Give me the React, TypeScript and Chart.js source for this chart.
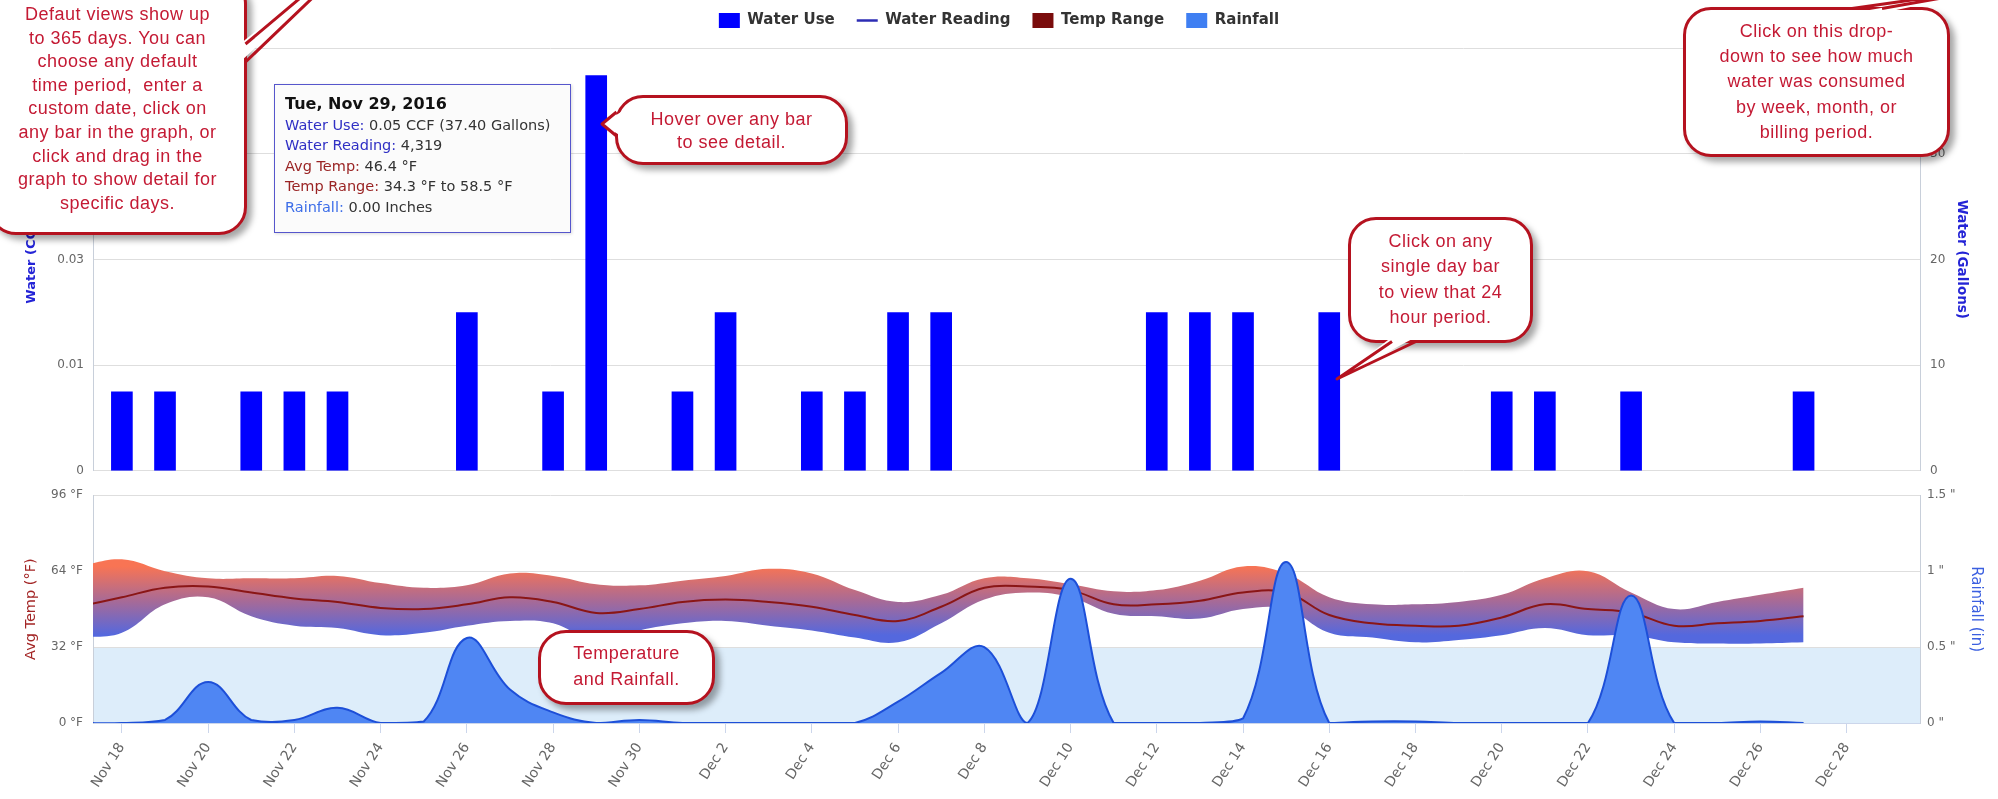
import React, { useEffect, useRef } from 'react';
import { Chart, registerables } from 'chart.js';

Chart.register(...registerables);

// ---------------- data ----------------
const days = [
  'Nov 17', 'Nov 18', 'Nov 19', 'Nov 20', 'Nov 21', 'Nov 22', 'Nov 23', 'Nov 24', 'Nov 25', 'Nov 26',
  'Nov 27', 'Nov 28', 'Nov 29', 'Nov 30', 'Dec 1', 'Dec 2', 'Dec 3', 'Dec 4', 'Dec 5', 'Dec 6',
  'Dec 7', 'Dec 8', 'Dec 9', 'Dec 10', 'Dec 11', 'Dec 12', 'Dec 13', 'Dec 14', 'Dec 15', 'Dec 16',
  'Dec 17', 'Dec 18', 'Dec 19', 'Dec 20', 'Dec 21', 'Dec 22', 'Dec 23', 'Dec 24', 'Dec 25', 'Dec 26',
  'Dec 27', 'Dec 28',
];

const tickDays = [
  'Nov 18', 'Nov 20', 'Nov 22', 'Nov 24', 'Nov 26', 'Nov 28', 'Nov 30', 'Dec 2', 'Dec 4', 'Dec 6',
  'Dec 8', 'Dec 10', 'Dec 12', 'Dec 14', 'Dec 16', 'Dec 18', 'Dec 20', 'Dec 22', 'Dec 24', 'Dec 26', 'Dec 28',
];

// Water use per day, gallons (0.01 CCF = 7.48 gal)
const waterUseGallons: (number | null)[] = [
  null, 7.48, 7.48, null, 7.48, 7.48, 7.48, null, null, 14.96,
  null, 7.48, 37.4, null, 7.48, 14.96, null, 7.48, 7.48, 14.96,
  14.96, null, null, null, null, 14.96, 14.96, 14.96, null, 14.96,
  null, null, null, 7.48, 7.48, null, 7.48, null, null, null,
  7.48, null,
];

const avgTemp: (number | null)[] = [
  49, 53, 57, 57.5, 55, 52.5, 51, 48.5, 48, 50,
  53, 51, 46.4, 48, 51, 52, 51, 49, 45.5, 43,
  49, 57, 57.5, 56, 50, 50, 51.5, 55, 55, 45.5,
  42, 41, 41, 44.5, 50, 48, 46.5, 41, 42, 43,
  45, null,
];

const highTemp: (number | null)[] = [
  66, 69, 64, 61, 61, 61, 62, 59, 57, 58,
  63, 62, 58.5, 58, 60, 62, 65, 63, 56, 51,
  54, 61, 61, 58.5, 55.5, 56, 60, 66, 63, 53,
  50, 50, 51, 54, 61, 64, 55, 48, 51, 54,
  57, null,
];

const lowTemp: (number | null)[] = [
  36, 38, 50, 53, 45, 41, 40, 37, 38, 41,
  43, 42, 34.3, 39, 42, 43, 41, 39, 36, 34,
  42, 52, 55, 53, 46, 45, 44, 48, 48, 38,
  36, 34, 35, 37, 40, 37, 37, 34, 33.5, 33.5,
  34, null,
];

const rainfall: (number | null)[] = [
  0, 0, 0.02, 0.27, 0.02, 0.02, 0.1, 0, 0.01, 0.56,
  0.22, 0.07, 0, 0.02, 0, 0, 0, 0, 0, 0.14,
  0.33, 0.5, 0, 0.95, 0, 0, 0, 0.03, 1.06, 0,
  0.01, 0.01, 0, 0, 0, 0, 0.84, 0, 0, 0.01,
  0, null,
];

const gallonTicks = [0, 10, 20, 30, 40];
const ccfTickLabels = ['0', '0.01', '0.03', '0.04', '0.05'];
const gallonTickLabels = ['0', '10', '20', '30', '40'];
const tempTicks = [0, 32, 64, 96];
const tempTickLabels = ['0 °F', '32 °F', '64 °F', '96 °F'];
const rainTicks = [0, 0.5, 1, 1.5];
const rainTickLabels = ['0 "', '0.5 "', '1 "', '1.5 "'];
const freezeRange = [0, 32];

const legendLabels = ['Water Use', 'Water Reading', 'Temp Range', 'Rainfall'];

const tooltipDay = 'Nov 29';
const tooltipDate = 'Tue, Nov 29, 2016';
const waterReading = '4,319';

// ---------------- view settings ----------------
const X_MIN = 0.33;
const X_MAX = 42.7;
const LEFT_AXIS_W = 93;
const RIGHT_AXIS_W = 78;
const LEGEND_DY = 10;

const legendStyles = [
  { color: '#0000ff', style: 'rect', lw: 0 },
  { color: '#2c2cb4', style: 'line', lw: 2.5 },
  { color: '#7a0c0c', style: 'rect', lw: 0 },
  { color: '#3f7ff2', style: 'rect', lw: 0 },
];

const toPoints = (arr: (number | null)[]) => arr.map((v, i) => ({ x: i, y: v }));

const xTicksFromDays = (scale: any) => {
  scale.ticks = tickDays.map((d) => ({ value: days.indexOf(d) }));
};

Chart.defaults.font.family = '"DejaVu Sans", sans-serif';
Chart.defaults.color = '#666';

const legendShift = {
  id: 'legendShift',
  afterLayout(chart: any) {
    const l = chart.legend;
    if (l) {
      l.top -= LEGEND_DY;
      l.bottom -= LEGEND_DY;
    }
  },
};

const freezeBand = {
  id: 'freezeBand',
  beforeDraw(chart: any) {
    const { ctx, chartArea } = chart;
    const ys = chart.scales.yTemp;
    if (!chartArea || !ys) return;
    const yTop = ys.getPixelForValue(freezeRange[1]);
    const yBot = ys.getPixelForValue(freezeRange[0]);
    ctx.save();
    ctx.fillStyle = '#ddedfa';
    ctx.fillRect(chartArea.left, yTop, chartArea.right - chartArea.left, yBot - yTop);
    ctx.restore();
  },
};

const tempRangeFill = (c: any) => {
  const chart = c.chart;
  const ys = chart.scales && chart.scales.yTemp;
  if (!chart.chartArea || !ys) return 'rgba(170,110,150,1)';
  const g = chart.ctx.createLinearGradient(0, ys.getPixelForValue(66), 0, ys.getPixelForValue(37));
  g.addColorStop(0, 'rgb(248,116,84)');
  g.addColorStop(0.5, 'rgb(168,106,150)');
  g.addColorStop(1, 'rgb(84,104,222)');
  return g;
};

// ---------------- overlays ----------------
type CalloutProps = {
  left: number; top: number; width: number; height: number;
  lines: string[]; lineHeight: number; padTop: number;
};

function Callout({ left, top, width, height, lines, lineHeight, padTop }: CalloutProps) {
  return (
    <div
      style={{
        position: 'absolute', left, top, width, height, boxSizing: 'border-box',
        border: '3px solid #b5121f', borderRadius: 28, background: '#fff',
        boxShadow: '5px 5px 6px rgba(0,0,0,0.35)',
        paddingTop: padTop, textAlign: 'center',
        fontFamily: '"Liberation Sans", Arial, sans-serif', fontSize: 18, letterSpacing: 0.5,
        color: '#c41a34', lineHeight: `${lineHeight}px`, whiteSpace: 'pre',
      }}
    >
      {lines.map((l, i) => (
        <div key={i}>{l}</div>
      ))}
    </div>
  );
}

type Tail = { fill: number[][]; stroke: number[][] };
const tails: Tail[] = [
  { fill: [[240, 44], [399, -85], [240, 62]], stroke: [[245.5, 44], [399, -85], [245.5, 62]] },
  { fill: [[621, 112], [602, 124], [621, 136]], stroke: [[616.5, 112], [602, 124], [616.5, 136]] },
  { fill: [[1852, 13], [2010, -14], [1882, 13]], stroke: [[1852, 8.5], [2010, -14], [1882, 8.5]] },
  { fill: [[1392, 337], [1337, 379], [1416, 337]], stroke: [[1392, 341.5], [1337, 379], [1416, 341.5]] },
];

const pts = (p: number[][]) => p.map((q) => q.join(',')).join(' ');

export default function App() {
  const topRef = useRef<HTMLCanvasElement>(null);
  const botRef = useRef<HTMLCanvasElement>(null);

  useEffect(() => {
    document.body.style.margin = '0';
    const gridColor = '#dedede';
    const axisColor = '#c8cfda';

    const top = new Chart(topRef.current as HTMLCanvasElement, {
      type: 'bar',
      data: {
        datasets: [
          {
            type: 'bar',
            label: 'Water Use',
            data: toPoints(waterUseGallons) as any,
            backgroundColor: '#0000ff',
            borderWidth: 0,
            barThickness: 21,
            yAxisID: 'yGal',
          },
          {
            type: 'line',
            label: 'Water Reading',
            data: [],
            borderColor: '#2c2cb4',
            yAxisID: 'yGal',
          } as any,
        ],
      },
      options: {
        responsive: false,
        animation: false,
        devicePixelRatio: 1,
        layout: { padding: { top: 1, bottom: 0, left: 0, right: 0 } },
        plugins: {
          tooltip: { enabled: false },
          legend: {
            display: true,
            position: 'top',
            labels: {
              usePointStyle: true,
              pointStyleWidth: 21,
              boxHeight: 15,
              padding: 22,
              color: '#333',
              font: { size: 15, weight: 'bold' },
              generateLabels: () =>
                legendLabels.map((text, i) => ({
                  text,
                  fillStyle: legendStyles[i].color,
                  strokeStyle: legendStyles[i].color,
                  lineWidth: legendStyles[i].lw,
                  pointStyle: legendStyles[i].style as any,
                  hidden: false,
                  datasetIndex: i,
                  fontColor: '#333',
                })),
            },
          },
        },
        scales: {
          x: { type: 'linear', min: X_MIN, max: X_MAX, offset: false, display: false },
          yCcf: {
            type: 'linear',
            position: 'left',
            min: 0,
            max: 40,
            afterBuildTicks: (s: any) => { s.ticks = gallonTicks.map((v) => ({ value: v })); },
            afterFit: (s: any) => { s.width = LEFT_AXIS_W; },
            ticks: { callback: (_v: any, i: number) => ccfTickLabels[i], padding: 9, font: { size: 12 }, color: '#666' },
            grid: { color: gridColor, drawTicks: false },
            border: { display: true, color: axisColor },
            title: { display: true, text: 'Water (CCF)', color: '#2424d6', font: { size: 13, weight: 'bold' }, padding: { top: 24, bottom: 0 } },
          },
          yGal: {
            type: 'linear',
            position: 'right',
            min: 0,
            max: 40,
            afterBuildTicks: (s: any) => { s.ticks = gallonTicks.map((v) => ({ value: v })); },
            afterFit: (s: any) => { s.width = RIGHT_AXIS_W; },
            ticks: { callback: (_v: any, i: number) => gallonTickLabels[i], padding: 10, font: { size: 12 }, color: '#666' },
            grid: { drawOnChartArea: false, drawTicks: false },
            border: { display: true, color: axisColor },
            title: { display: true, text: 'Water (Gallons)', color: '#2424d6', font: { size: 13.5, weight: 'bold' }, padding: { top: 28, bottom: 0 } },
          },
        },
      } as any,
      plugins: [legendShift],
    });

    const bottom = new Chart(botRef.current as HTMLCanvasElement, {
      type: 'line',
      data: {
        datasets: [
          {
            label: 'Rainfall',
            data: toPoints(rainfall) as any,
            yAxisID: 'yRain',
            borderColor: '#1d4fd8',
            borderWidth: 2,
            backgroundColor: '#4f86f3',
            fill: 'origin',
            tension: 0.4,
            pointRadius: 0,
          },
          {
            label: 'Avg Temp',
            data: toPoints(avgTemp) as any,
            yAxisID: 'yTemp',
            borderColor: '#8a1616',
            borderWidth: 2,
            fill: false,
            tension: 0.4,
            pointRadius: 0,
          },
          {
            label: 'Temp High',
            data: toPoints(highTemp) as any,
            yAxisID: 'yTemp',
            borderWidth: 0,
            borderColor: 'rgba(0,0,0,0)',
            backgroundColor: tempRangeFill,
            fill: '+1',
            tension: 0.4,
            pointRadius: 0,
          },
          {
            label: 'Temp Low',
            data: toPoints(lowTemp) as any,
            yAxisID: 'yTemp',
            borderWidth: 0,
            borderColor: 'rgba(0,0,0,0)',
            fill: false,
            tension: 0.4,
            pointRadius: 0,
          },
        ],
      },
      options: {
        responsive: false,
        animation: false,
        devicePixelRatio: 1,
        layout: { padding: { top: 13, bottom: 0, left: 0, right: 0 } },
        plugins: { legend: { display: false }, tooltip: { enabled: false } },
        scales: {
          x: {
            type: 'linear',
            min: X_MIN,
            max: X_MAX,
            offset: false,
            afterBuildTicks: xTicksFromDays,
            afterFit: (s: any) => { s.height = 76; },
            ticks: {
              callback: (v: any) => days[v] ?? '',
              minRotation: 57,
              maxRotation: 57,
              autoSkip: false,
              color: '#666',
              font: { size: 14 },
              padding: 7,
            },
            grid: { display: true, drawOnChartArea: false, drawTicks: true, tickLength: 10, color: '#ccd6eb' },
            border: { display: true, color: '#ccd6eb' },
          },
          yTemp: {
            type: 'linear',
            position: 'left',
            min: 0,
            max: 96,
            afterBuildTicks: (s: any) => { s.ticks = tempTicks.map((v) => ({ value: v })); },
            afterFit: (s: any) => { s.width = LEFT_AXIS_W; },
            ticks: { callback: (_v: any, i: number) => tempTickLabels[i], padding: 10, font: { size: 12 }, color: '#666' },
            grid: { color: gridColor, drawTicks: false },
            border: { display: true, color: axisColor },
            title: { display: true, text: 'Avg Temp (°F)', color: '#a32626', font: { size: 14.5 }, padding: { top: 23, bottom: 0 } },
          },
          yRain: {
            type: 'linear',
            position: 'right',
            min: 0,
            max: 1.5,
            afterBuildTicks: (s: any) => { s.ticks = rainTicks.map((v) => ({ value: v })); },
            afterFit: (s: any) => { s.width = RIGHT_AXIS_W; },
            ticks: { callback: (_v: any, i: number) => rainTickLabels[i], padding: 7, font: { size: 12 }, color: '#666' },
            grid: { drawOnChartArea: false, drawTicks: false },
            border: { display: true, color: axisColor },
            title: { display: true, text: 'Rainfall (in)', color: '#3b5fe0', font: { size: 15 }, padding: { top: 13, bottom: 0 } },
          },
        },
      } as any,
      plugins: [freezeBand],
    });

    return () => {
      top.destroy();
      bottom.destroy();
    };
  }, []);

  const ti = days.indexOf(tooltipDay);
  const gal = waterUseGallons[ti] ?? 0;

  return (
    <div style={{ position: 'relative', width: 1998, height: 799, overflow: 'hidden', background: '#fff' }}>
      <canvas ref={topRef} width={1998} height={488} style={{ position: 'absolute', left: 0, top: 0 }} />
      <canvas ref={botRef} width={1998} height={321} style={{ position: 'absolute', left: 0, top: 478 }} />

      {/* tooltip */}
      <div
        style={{
          position: 'absolute', left: 274, top: 84, width: 297, height: 149, boxSizing: 'border-box',
          border: '1.5px solid #5656cc', background: '#fbfbfb',
          fontFamily: '"DejaVu Sans", sans-serif', fontSize: 14.5, color: '#333',
          padding: '9px 0 0 10px', lineHeight: '20.5px', whiteSpace: 'nowrap',
          boxShadow: '1px 1px 3px rgba(0,0,0,0.15)',
        }}
      >
        <div style={{ fontWeight: 'bold', fontSize: 16, color: '#111' }}>{tooltipDate}</div>
        <div><span style={{ color: '#2f2fc4' }}>Water Use:</span> {(gal / 748).toFixed(2)} CCF ({gal.toFixed(2)} Gallons)</div>
        <div><span style={{ color: '#2f2fc4' }}>Water Reading:</span> {waterReading}</div>
        <div><span style={{ color: '#9a2424' }}>Avg Temp:</span> {(avgTemp[ti] ?? 0).toFixed(1)} °F</div>
        <div><span style={{ color: '#9a2424' }}>Temp Range:</span> {(lowTemp[ti] ?? 0).toFixed(1)} °F to {(highTemp[ti] ?? 0).toFixed(1)} °F</div>
        <div><span style={{ color: '#3d6ee8' }}>Rainfall:</span> {(rainfall[ti] ?? 0).toFixed(2)} Inches</div>
      </div>

      <Callout
        left={-12} top={-24} width={259} height={259} lineHeight={23.6} padTop={24}
        lines={[
          'Defaut views show up',
          'to 365 days. You can',
          'choose any default',
          'time period,  enter a',
          'custom date, click on',
          'any bar in the graph, or',
          'click and drag in the',
          'graph to show detail for',
          'specific days.',
        ]}
      />
      <Callout left={615} top={95} width={233} height={70} lineHeight={23} padTop={10}
        lines={['Hover over any bar', 'to see detail.']} />
      <Callout left={1683} top={7} width={267} height={150} lineHeight={25.2} padTop={9}
        lines={['Click on this drop-', 'down to see how much', 'water was consumed', 'by week, month, or', 'billing period.']} />
      <Callout left={1348} top={217} width={185} height={126} lineHeight={25.3} padTop={9}
        lines={['Click on any', 'single day bar', 'to view that 24', 'hour period.']} />
      <Callout left={538} top={630} width={177} height={75} lineHeight={26} padTop={7}
        lines={['Temperature', 'and Rainfall.']} />

      <svg width={1998} height={799} style={{ position: 'absolute', left: 0, top: 0, pointerEvents: 'none' }}>
        {tails.map((t, i) => (
          <g key={i}>
            <polygon points={pts(t.fill)} fill="#fff" />
            <polyline points={pts(t.stroke)} fill="none" stroke="#b5121f" strokeWidth={3} strokeLinejoin="round" />
          </g>
        ))}
      </svg>
    </div>
  );
}
